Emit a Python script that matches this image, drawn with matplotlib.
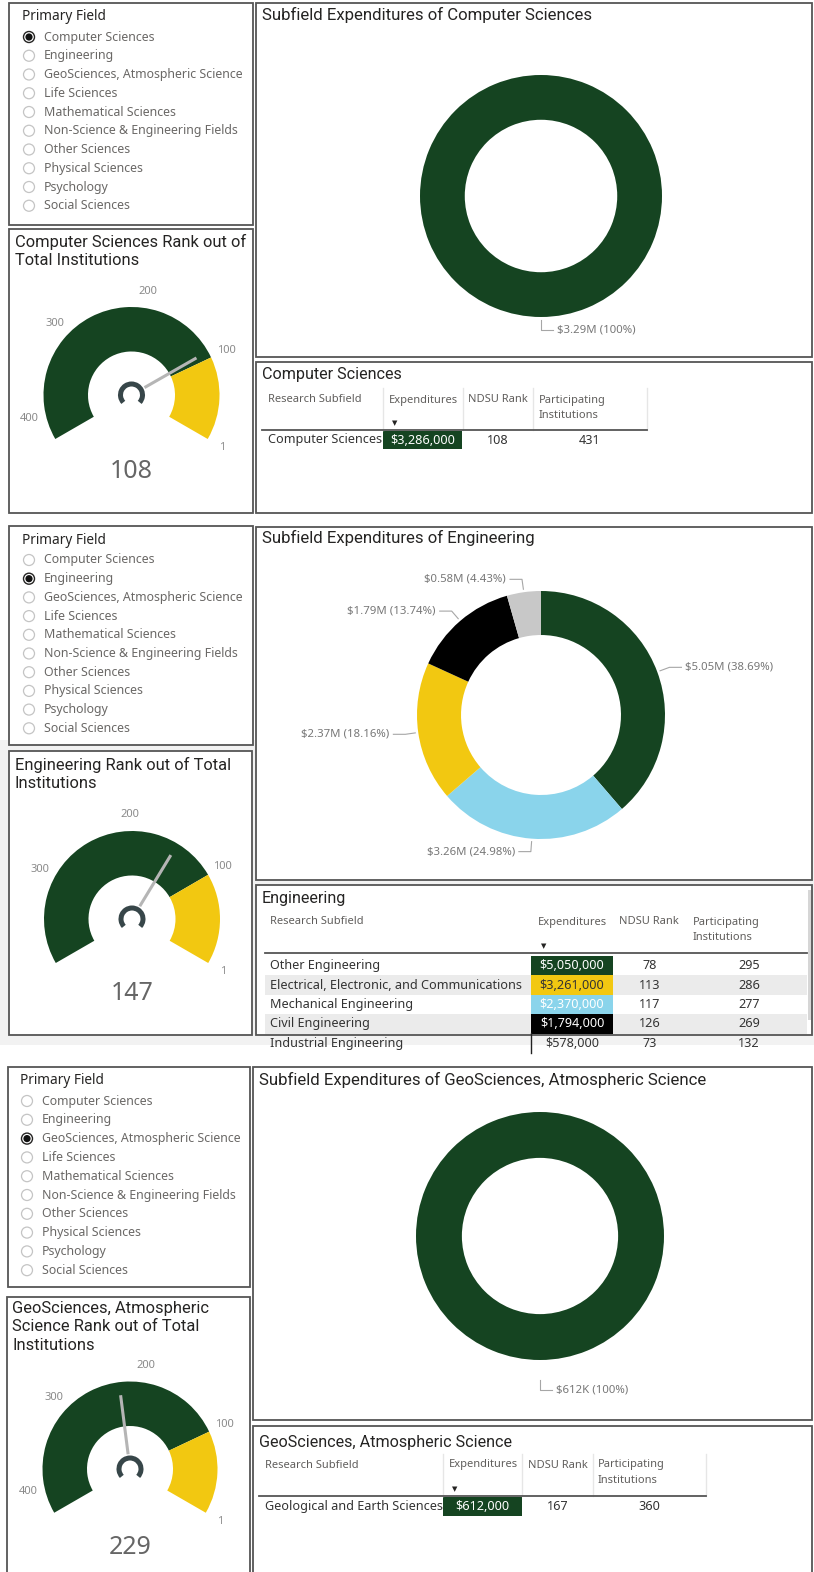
import numpy as np
import matplotlib.pyplot as plt
from matplotlib.patches import Rectangle, Circle, Arc

W, H = 814, 1572

# slicer options
fields = ["Computer Sciences", "Engineering", "GeoSciences, Atmospheric Science",
          "Life Sciences", "Mathematical Sciences", "Non-Science & Engineering Fields",
          "Other Sciences", "Physical Sciences", "Psychology", "Social Sciences"]

# field rank (gauge needle) and institutions ranked in the field (gauge max)
field_rank = [108, 147, 229]
field_total = [431, 396, 431]
gauge_ticks = [1, 100, 200, 300, 400]
top_band = 100

# subfield tables
cs_sub = ["Computer Sciences"]
cs_exp = [3286000]
cs_rank = [108]
cs_inst = [431]

eng_sub = ["Other Engineering", "Electrical, Electronic, and Communications",
           "Mechanical Engineering", "Civil Engineering", "Industrial Engineering"]
eng_exp = [5050000, 3261000, 2370000, 1794000, 578000]
eng_rank = [78, 113, 117, 126, 73]
eng_inst = [295, 286, 277, 269, 132]

geo_sub = ["Geological and Earth Sciences"]
geo_exp = [612000]
geo_rank = [167]
geo_inst = [360]

GREEN = '#154421'
YELLOW = '#f2c811'
BLUE = '#8ad4eb'
BODY = 'Noto Sans'
HEAD = 'Roboto'

fig = plt.figure(figsize=(W / 100, H / 100), dpi=100)
ax = fig.add_axes([0, 0, 1, 1])
ax.set_xlim(0, W)
ax.set_ylim(H, 0)
ax.axis('off')

# grey canvas behind the middle dashboard
ax.add_patch(Rectangle((0, 740), W, 305, facecolor='#f2f2f2', edgecolor='none'))


def box(x0, y0, x1, y1):
    ax.add_patch(Rectangle((x0, y0), x1 - x0, y1 - y0, facecolor='white',
                           edgecolor='#555555', lw=1.3))


def sub_axes(cx, cy, rx, ry):
    return fig.add_axes([(cx - rx) / W, 1 - (cy + ry) / H, 2 * rx / W, 2 * ry / H])


def finish(a):
    a.set_aspect('auto')
    a.set_xlim(-1, 1)
    a.set_ylim(-1, 1)
    a.axis('off')
    a.patch.set_visible(False)


def money(v, big):
    if big >= 1e6:
        return f"${v / 1e6:.2f}M"
    return f"${v / 1e3:.0f}K"


def pct(p):
    return f"{p:.2f}".rstrip('0').rstrip('.') + '%'


def slicer(x0, y0, x1, y1, tx, ty, iy, dy, sel):
    box(x0, y0, x1, y1)
    ax.text(tx, ty, "Primary Field", fontsize=9.8, color='#252423', family=BODY,
            va='center')
    for i, f in enumerate(fields):
        y = iy + i * dy
        if f == sel:
            ax.add_patch(Circle((tx + 7, y), 5.5, facecolor='white', edgecolor='#252423', lw=1))
            ax.add_patch(Circle((tx + 7, y), 3.6, facecolor='#111111', edgecolor='none'))
        else:
            ax.add_patch(Circle((tx + 7, y), 5.5, facecolor='white', edgecolor='#c4c4c4', lw=0.9))
        ax.text(tx + 22, y, f, fontsize=8.9, color='#6a6866', family=BODY, va='center')


def gauge(box_xy, title_lines, tx, ty, cx, cy, R, r, value, total, vy):
    box(*box_xy)
    for i, line in enumerate(title_lines):
        ax.text(tx, ty + i * 18.5, line, fontsize=11.9, color='#252423', family=HEAD,
                va='center')
    g = sub_axes(cx, cy, R, R)
    span = total - 1
    g.pie([total - top_band, top_band - 1, span / 2], colors=[GREEN, YELLOW, 'none'],
          startangle=210, counterclock=False, radius=1,
          wedgeprops=dict(width=1 - r / R, linewidth=0))
    finish(g)
    k = 240 / span

    def ang(v):
        return np.radians(210 - (total - v) * k)

    for t in gauge_ticks:
        if t <= total:
            a = ang(t)
            ax.text(cx + (R + 17) * np.cos(a), cy - (R + 17) * np.sin(a), str(t),
                    fontsize=8, color='#8a8a8a', family=BODY, ha='center', va='center')
    a = ang(value)
    g.plot([0.17 * np.cos(a), 0.85 * np.cos(a)], [0.17 * np.sin(a), 0.85 * np.sin(a)],
           color='#b5b5b5', lw=2.2, solid_capstyle='butt')
    g.add_patch(Arc((0, 0), 22 / R, 22 / R, theta1=-42, theta2=222, lw=3.6, color='#374649'))
    ax.text(cx, vy, str(value), fontsize=18, color='#666666', family=BODY,
            ha='center', va='center')


def donut(box_xy, title, tx, ty, cx, cy, R, hole, values, colors, gap):
    box(*box_xy)
    ax.text(tx, ty, title, fontsize=12.1, color='#252423', family=HEAD, va='center')
    d = sub_axes(cx, cy, R, R)
    wedges, _ = d.pie(values, colors=colors, startangle=90, counterclock=False,
                      wedgeprops=dict(width=1 - hole, linewidth=0))
    finish(d)
    total = sum(values)
    for w, v in zip(wedges, values):
        m = np.radians((w.theta1 + w.theta2) / 2)
        c, s = np.cos(m), np.sin(m)
        p0 = (cx + (R + gap) * c, cy - (R + gap) * s)
        p1 = (p0[0] + 10 * c, p0[1] - 10 * s)
        side = 1 if round(c, 6) >= 0 else -1
        p2 = (p1[0] + 12 * side, p1[1])
        ax.plot([p0[0], p1[0], p2[0]], [p0[1], p1[1], p2[1]], color='#a6a6a6', lw=0.8)
        ax.text(p2[0] + 4 * side, p2[1], f"{money(v, max(values))} ({pct(v / total * 100)})",
                fontsize=8.2, color='#777777', family=BODY, va='center',
                ha='left' if side > 0 else 'right')


def table(box_xy, title, tx, ty, hx, hy, line_y, line_x, seps, lab_x, exp_lr, rank_c,
          inst_c, row_y0, row_h, subs, exps, ranks, insts, cell_c, cell_t, shade):
    box(*box_xy)
    ax.text(tx, ty, title, fontsize=11.6, color='#252423', family=HEAD, va='center')
    for x, lab in zip(hx, ["Research Subfield", "Expenditures", "NDSU Rank", "Participating"]):
        ax.text(x, hy, lab, fontsize=8.0, color='#605e5c', family=BODY, va='center')
    ax.text(hx[3], hy + 15.5, "Institutions", fontsize=8.0, color='#605e5c', family=BODY,
            va='center')
    ax.text(hx[1] + 3, line_y - 7, '\u25bc', fontsize=5, color='#252423', va='center')
    for x in seps:
        ax.plot([x, x], [line_y - 42, line_y], color='#e6e6e6', lw=1)
    for i, (s, e, rk, n) in enumerate(zip(subs, exps, ranks, insts)):
        y0 = row_y0 + i * row_h
        yc = y0 + row_h / 2
        if shade and i % 2 == 1:
            ax.add_patch(Rectangle((line_x[0], y0), line_x[1] - line_x[0], row_h,
                                   facecolor='#ebebeb', edgecolor='none'))
        if cell_c[i] is not None:
            ax.add_patch(Rectangle((exp_lr[0], y0), exp_lr[1] - exp_lr[0], row_h,
                                   facecolor=cell_c[i], edgecolor='none'))
        ax.text(lab_x, yc, s, fontsize=9.1, color='#333333', family=BODY, va='center')
        ax.text((exp_lr[0] + exp_lr[1]) / 2, yc, f"${e:,}", fontsize=9.1, color=cell_t[i],
                family=BODY, va='center', ha='center')
        ax.text(rank_c, yc, str(rk), fontsize=9.1, color='#333333', family=BODY,
                va='center', ha='center')
        ax.text(inst_c, yc, str(n), fontsize=9.1, color='#333333', family=BODY,
                va='center', ha='center')
    ax.plot(line_x, [line_y, line_y], color='#555555', lw=1.3)


# ---------- dashboard 1: Computer Sciences ----------
slicer(9, 3, 253, 225, 22, 17, 37, 18.75, fields[0])
gauge((9, 229, 253, 513), ["Computer Sciences Rank out of", "Total Institutions"], 15, 242,
      131.5, 395, 88, 43.5, field_rank[0], field_total[0], 471)
donut((256, 3, 812, 357), "Subfield Expenditures of Computer Sciences", 262, 15,
      541, 196, 121, 0.63, cs_exp, [GREEN], 3)
table((256, 362, 812, 513), "Computer Sciences", 262, 375, [268, 389, 468, 539], 400, 430,
      [262, 647], [383, 463, 533, 647], 268, (383, 462), 498, 590, 431, 18,
      cs_sub, cs_exp, cs_rank, cs_inst, [GREEN], ['white'], False)

# ---------- dashboard 2: Engineering ----------
slicer(9, 526, 253, 745, 22, 540, 560, 18.7, fields[1])
gauge((9, 751, 252, 1035), ["Engineering Rank out of Total", "Institutions"], 15, 765,
      132, 919, 88, 43.5, field_rank[1], field_total[1], 993)
donut((256, 527, 812, 880), "Subfield Expenditures of Engineering", 262, 538,
      541, 715, 124, 0.645, eng_exp, [GREEN, BLUE, YELLOW, 'black', '#c8c8c8'], 3)
ax.add_patch(Rectangle((265, 1033), 542, 20, facecolor='white', edgecolor='none', zorder=0.5))
table((256, 885, 812, 1035), "Engineering", 262, 899, [270, 538, 619, 693], 922, 953,
      [265, 807], [], 270, (531, 613), 650, 749, 956, 19.4,
      eng_sub, eng_exp, eng_rank, eng_inst,
      [GREEN, YELLOW, BLUE, 'black', None], ['white', '#333333', 'white', 'white', '#333333'],
      True)
ax.plot([531, 531], [1033, 1053], color='#222222', lw=1)
ax.add_patch(Rectangle((808, 890), 3, 130, facecolor='#d6d6d6', edgecolor='none'))

# ---------- dashboard 3: GeoSciences ----------
slicer(8, 1067, 250, 1287, 20, 1080, 1101, 18.8, fields[2])
gauge((7, 1297, 250, 1585), ["GeoSciences, Atmospheric", "Science Rank out of Total",
                             "Institutions"], 12, 1308,
      130, 1469, 87.5, 43, field_rank[2], field_total[2], 1547)
donut((253, 1067, 812, 1420), "Subfield Expenditures of GeoSciences, Atmospheric Science",
      259, 1080, 540, 1236, 124, 0.63, geo_exp, [GREEN], 20)
table((253, 1426, 812, 1585), "GeoSciences, Atmospheric Science", 259, 1443,
      [265, 449, 528, 598], 1465, 1496, [259, 706], [443, 522, 593, 706], 265, (443, 522),
      558, 649, 1497, 19, geo_sub, geo_exp, geo_rank, geo_inst, [GREEN], ['white'], False)

fig.savefig('out.png', dpi=100)
